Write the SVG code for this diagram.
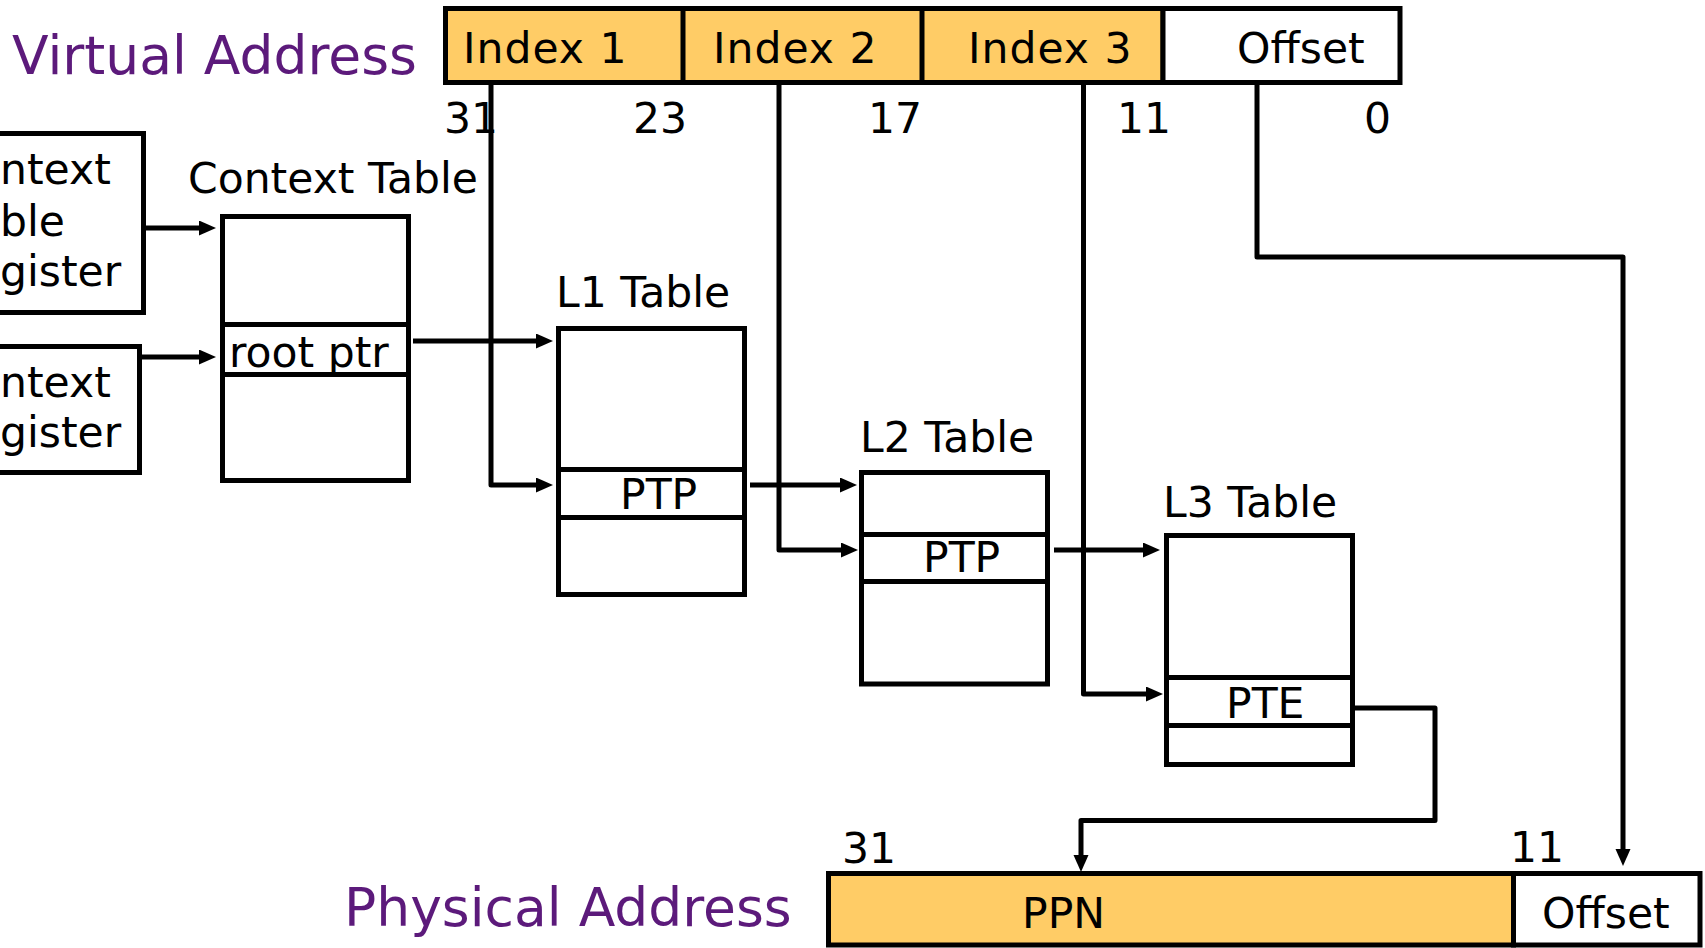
<svg xmlns="http://www.w3.org/2000/svg" width="1705" height="948" viewBox="0 0 1705 948">
<style>
text{font-family:"DejaVu Sans",Verdana,sans-serif;fill:#000;}
.t{font-size:42.5px;}
.idx{letter-spacing:1px;}
.title{font-size:53.5px;fill:#5c1a7b;}
.box{fill:#fff;stroke:#000;stroke-width:5;}
.fld{fill:#ffcc66;stroke:#000;stroke-width:5;}
.row{stroke:#000;stroke-width:5;fill:none;}
.conn{fill:none;stroke:#000;stroke-width:5;stroke-linejoin:round;marker-end:url(#ah);}
</style>
<defs>
<marker id="ah" markerUnits="userSpaceOnUse" markerWidth="18" markerHeight="16" refX="1" refY="7.5" orient="auto">
<path d="M0,0 L17,7.5 L0,15 z" fill="#000"/>
</marker>
</defs>
<rect width="1705" height="948" fill="#fff"/>

<g id="virtual-address">
<text class="title" x="12" y="74">Virtual Address</text>
<rect class="fld" x="445.5" y="8.5" width="717.5" height="74"/>
<rect class="box" x="1163" y="8.5" width="237" height="74"/>
<line class="row" x1="683" y1="8.5" x2="683" y2="82.5"/>
<line class="row" x1="922" y1="8.5" x2="922" y2="82.5"/>
<text class="t idx" x="463" y="63">Index 1</text>
<text class="t idx" x="713" y="63">Index 2</text>
<text class="t idx" x="968" y="63">Index 3</text>
<text class="t" x="1237" y="63">Offset</text>
<text class="t" x="444" y="133">31</text>
<text class="t" x="633" y="133">23</text>
<text class="t" x="868" y="133">17</text>
<text class="t" x="1117" y="133">11</text>
<text class="t" x="1364" y="133">0</text>
</g>

<g id="context-table-register">
<rect class="box" x="-10" y="133.5" width="153.5" height="179"/>
<text class="t" x="0" y="184">ntext</text>
<text class="t" x="0" y="236">ble</text>
<text class="t" x="0" y="286">gister</text>
</g>

<g id="context-register">
<rect class="box" x="-10" y="346.5" width="149.5" height="126"/>
<text class="t" x="0" y="397">ntext</text>
<text class="t" x="0" y="447">gister</text>
</g>

<g id="context-table">
<text class="t" x="188" y="193">Context Table</text>
<rect class="box" x="222.5" y="216.5" width="186" height="264"/>
<line class="row" x1="222.5" y1="324.5" x2="408.5" y2="324.5"/>
<line class="row" x1="222.5" y1="374.5" x2="408.5" y2="374.5"/>
<text class="t" x="229" y="367">root ptr</text>
</g>

<g id="l1-table">
<text class="t" x="556" y="307">L1 Table</text>
<rect class="box" x="558.5" y="328.5" width="186" height="266"/>
<line class="row" x1="558.5" y1="469.5" x2="744.5" y2="469.5"/>
<line class="row" x1="558.5" y1="517.5" x2="744.5" y2="517.5"/>
<text class="t" x="620" y="509">PTP</text>
</g>

<g id="l2-table">
<text class="t" x="860" y="452">L2 Table</text>
<rect class="box" x="861.5" y="472.5" width="186" height="211.5"/>
<line class="row" x1="861.5" y1="534.5" x2="1047.5" y2="534.5"/>
<line class="row" x1="861.5" y1="581.5" x2="1047.5" y2="581.5"/>
<text class="t" x="923" y="572">PTP</text>
</g>

<g id="l3-table">
<text class="t" x="1163" y="517">L3 Table</text>
<rect class="box" x="1166.5" y="535.5" width="186" height="229"/>
<line class="row" x1="1166.5" y1="677.5" x2="1352.5" y2="677.5"/>
<line class="row" x1="1166.5" y1="725.5" x2="1352.5" y2="725.5"/>
<text class="t" x="1226" y="718">PTE</text>
</g>

<g id="physical-address">
<text class="title" x="344" y="926">Physical Address</text>
<rect class="fld" x="828.5" y="873.5" width="685" height="71.5"/>
<rect class="box" x="1513.5" y="873.5" width="186.5" height="71.5"/>
<text class="t" x="842" y="863">31</text>
<text class="t" x="1510" y="862">11</text>
<text class="t" x="1022" y="928">PPN</text>
<text class="t" x="1542" y="928">Offset</text>
</g>

<g id="connectors">
<path class="conn" d="M146,228 H200"/>
<path class="conn" d="M142,357 H200"/>
<path class="conn" d="M413,341 H537"/>
<path class="conn" d="M491,85 V485 H537"/>
<path class="conn" d="M750,485 H841"/>
<path class="conn" d="M779,85 V550 H842"/>
<path class="conn" d="M1054,550 H1144"/>
<path class="conn" d="M1083.5,85 V694 H1147"/>
<path class="conn" d="M1355,708 H1435 V820.5 H1081 V856"/>
<path class="conn" d="M1257,82 V257 H1623 V850"/>
</g>
</svg>
